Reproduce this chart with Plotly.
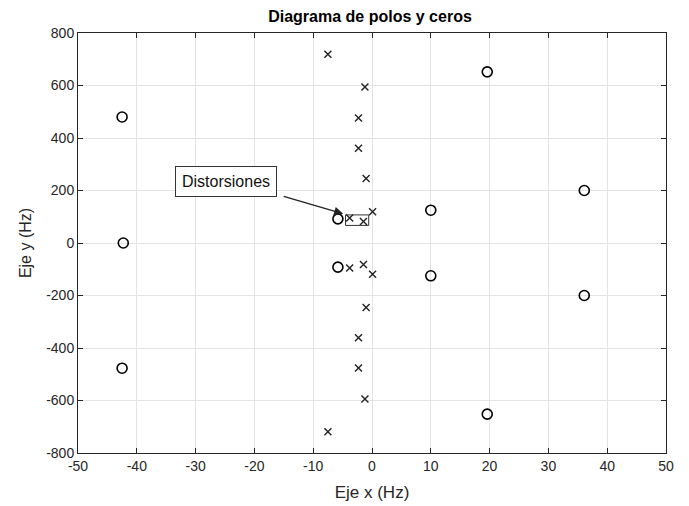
import plotly.graph_objects as go

# Zeros (circles)
zeros_x = [-42.5, -42.3, -42.5, 19.6, 19.6, 36.1, 36.1, 10.0, 10.0, -5.8, -5.8]
zeros_y = [480, 0, -477, 652, -652, 200, -200, 125, -125, 92, -92]

# Poles (crosses)
poles_x = [-7.5, -1.2, -2.3, -2.3, -1.0, -3.8, -1.45, 0.1,
           -7.5, -1.2, -2.3, -2.3, -1.0, -3.8, -1.45, 0.1]
poles_y = [719, 594, 476, 361, 246, 95, 82, 119,
           -719, -594, -476, -361, -246, -95, -82, -119]

x_ticks = [-50, -40, -30, -20, -10, 0, 10, 20, 30, 40, 50]
y_ticks = [-800, -600, -400, -200, 0, 200, 400, 600, 800]
x_ticktext = [str(v) for v in x_ticks]
y_ticktext = [str(v) for v in y_ticks]

# Annotation region (Distorsiones)
rect_x = [-4.5, -0.56]
rect_y = [67, 107]
arrow_head = (-4.9, 111)
label_pos = (-24.8, 233)

FONT = "Liberation Sans, Arial"

fig = go.Figure()
fig.add_trace(go.Scatter(
    x=zeros_x, y=zeros_y, mode="markers",
    marker=dict(symbol="circle-open", size=10, color="black", line=dict(width=1.6)),
    showlegend=False))
fig.add_trace(go.Scatter(
    x=poles_x, y=poles_y, mode="markers",
    marker=dict(symbol="x-thin-open", size=7, color="#222222", line=dict(width=1.4)),
    showlegend=False))

fig.add_shape(type="rect", xref="x", yref="y",
              x0=rect_x[0], x1=rect_x[1], y0=rect_y[0], y1=rect_y[1],
              line=dict(color="#333333", width=1))

fig.add_annotation(x=arrow_head[0], y=arrow_head[1], xref="x", yref="y",
                   text="", showarrow=True, ax=-61, ay=-18,
                   arrowhead=2, arrowsize=1.4, arrowwidth=1.3, arrowcolor="#222222")
fig.add_annotation(x=label_pos[0], y=label_pos[1], xref="x", yref="y",
                   text="Distorsiones", showarrow=False,
                   font=dict(family=FONT, size=16, color="#111111"),
                   bgcolor="white", bordercolor="#333333", borderwidth=1, borderpad=6)

axis_common = dict(
    showline=True, linecolor="#262626", linewidth=1, mirror="ticks",
    ticks="inside", ticklen=5, tickcolor="#262626",
    showgrid=True, gridcolor="#e3e3e3", gridwidth=1,
    zeroline=False,
    tickfont=dict(family=FONT, size=14, color="#262626"),
)

fig.update_xaxes(range=[-50, 50], tickvals=x_ticks, ticktext=x_ticktext,
                 title=dict(text="Eje x (Hz)", standoff=13,
                            font=dict(family=FONT, size=17, color="#262626")),
                 **axis_common)
fig.update_yaxes(range=[-800, 800], tickvals=y_ticks, ticktext=y_ticktext,
                 title=dict(text="Eje y (Hz)", standoff=10,
                            font=dict(family=FONT, size=16, color="#262626")),
                 **axis_common)

fig.update_layout(
    width=681, height=498,
    margin=dict(l=70, r=23, t=25, b=53, autoexpand=False),
    plot_bgcolor="white", paper_bgcolor="white",
    title=dict(text="<b>Diagrama de polos y ceros</b>", x=(370 - 8) / 681, xanchor="center",
               y=0.984, yanchor="middle",
               font=dict(family=FONT, size=16, color="black")),
)

fig.write_html("out.html")
